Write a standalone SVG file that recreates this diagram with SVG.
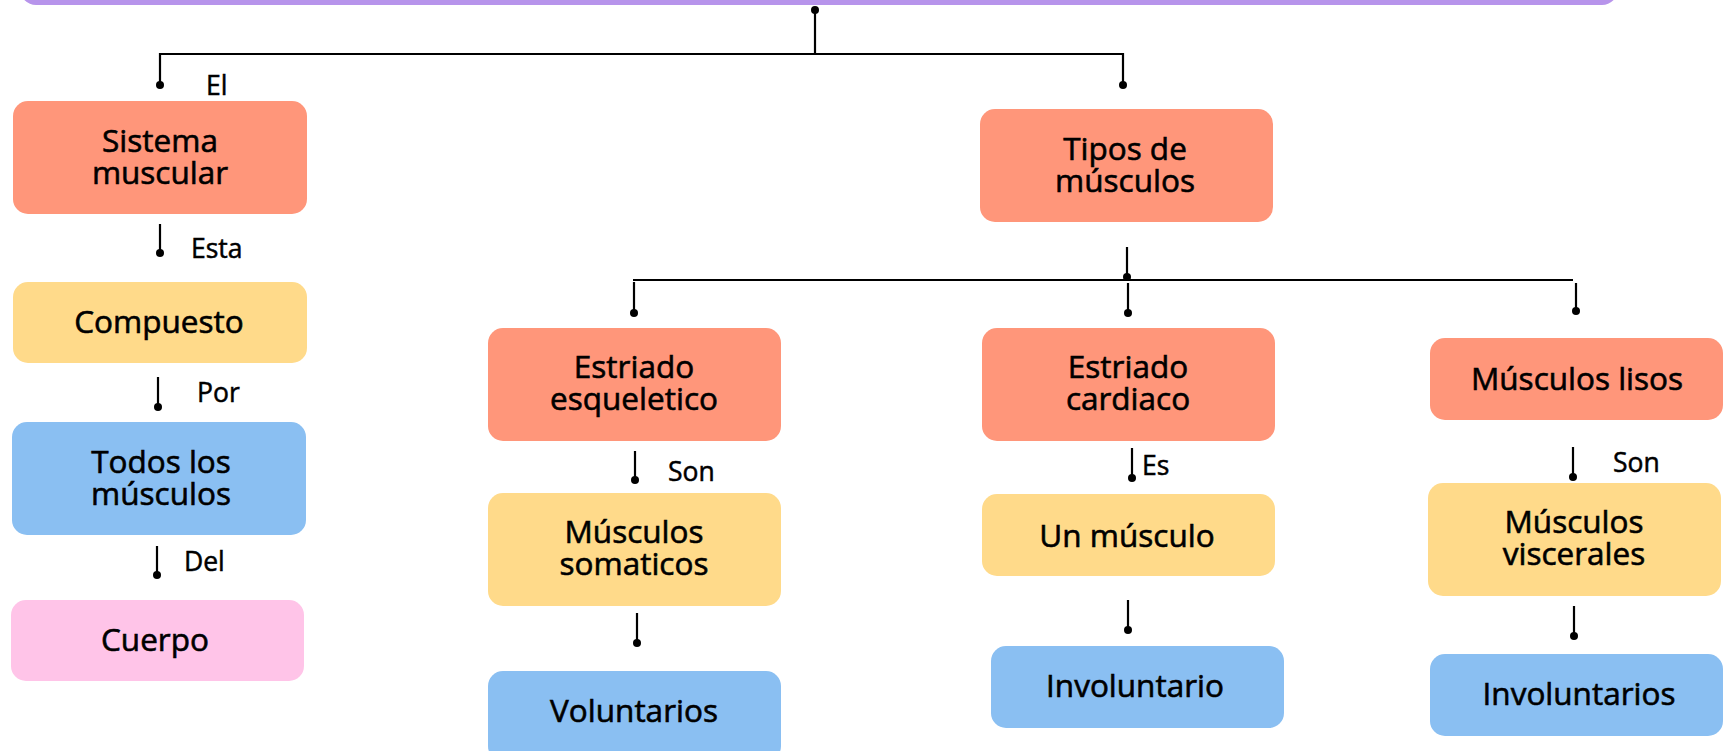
<svg xmlns="http://www.w3.org/2000/svg" width="1727" height="751" viewBox="0 0 1727 751">
<style>
.n{font-family:"Open Sans","Liberation Sans",sans-serif;font-size:31.5px;font-weight:500;fill:#000;stroke:#000;stroke-width:0.6;text-anchor:middle}
.l{font-family:"Open Sans","Liberation Sans",sans-serif;font-size:26.5px;font-weight:500;fill:#000;stroke:#000;stroke-width:0.5}
.c line,.c path{stroke:#000;stroke-width:2.2;fill:none}
.c circle{fill:#000}
.red{fill:#FF967A}
.yel{fill:#FFDA8A}
.blu{fill:#8ABFF2}
.pnk{fill:#FFC4E8}
</style>
<rect width="1727" height="751" fill="#fff"/>
<g id="title"><rect x="20" y="-40" width="1598" height="45" rx="16" fill="#B794EB"/></g>

<g id="connectors" class="c">
<line x1="815" y1="10" x2="815" y2="54"/><circle cx="815" cy="10" r="4"/>
<path d="M160 85 V54 H1123 V85"/>
<circle cx="160" cy="85" r="4"/><circle cx="1123" cy="85" r="4"/>
<line x1="160" y1="224" x2="160" y2="253"/><circle cx="160" cy="253" r="4"/>
<line x1="158" y1="377" x2="158" y2="407"/><circle cx="158" cy="407" r="4"/>
<line x1="157" y1="546" x2="157" y2="575"/><circle cx="157" cy="575" r="4"/>
<line x1="1127" y1="247" x2="1127" y2="279"/><circle cx="1127" cy="277" r="4"/>
<line x1="633" y1="280" x2="1573" y2="280"/>
<line x1="634" y1="282" x2="634" y2="313"/><circle cx="634" cy="313" r="4"/>
<line x1="1128" y1="283" x2="1128" y2="313"/><circle cx="1128" cy="313" r="4"/>
<line x1="1576" y1="283" x2="1576" y2="311"/><circle cx="1576" cy="311" r="4"/>
<line x1="635" y1="451" x2="635" y2="480"/><circle cx="635" cy="480" r="4"/>
<line x1="637" y1="613" x2="637" y2="643"/><circle cx="637" cy="643" r="4"/>
<line x1="1132" y1="448" x2="1132" y2="478"/><circle cx="1132" cy="478" r="4"/>
<line x1="1128" y1="600" x2="1128" y2="630"/><circle cx="1128" cy="630" r="4"/>
<line x1="1573" y1="447" x2="1573" y2="477"/><circle cx="1573" cy="477" r="4"/>
<line x1="1574" y1="606" x2="1574" y2="636"/><circle cx="1574" cy="636" r="4"/>
</g>

<g id="labels">
<text class="l" x="206" y="95">El</text>
<text class="l" x="191" y="258">Esta</text>
<text class="l" x="197" y="402">Por</text>
<text class="l" x="184" y="571">Del</text>
<text class="l" x="668" y="481">Son</text>
<text class="l" x="1142" y="475">Es</text>
<text class="l" x="1613" y="472">Son</text>
</g>

<g id="sistema"><rect class="red" x="13" y="101" width="294" height="113" rx="15"/><text class="n"><tspan x="160" y="152">Sistema</tspan><tspan x="160" y="184">muscular</tspan></text></g>
<g id="compuesto"><rect class="yel" x="13" y="282" width="294" height="81" rx="15"/><text class="n" x="159" y="333">Compuesto</text></g>
<g id="todos"><rect class="blu" x="12" y="422" width="294" height="113" rx="15"/><text class="n"><tspan x="161" y="473">Todos los</tspan><tspan x="161" y="505">músculos</tspan></text></g>
<g id="cuerpo"><rect class="pnk" x="11" y="600" width="293" height="81" rx="15"/><text class="n" x="155" y="651">Cuerpo</text></g>

<g id="tipos"><rect class="red" x="980" y="109" width="293" height="113" rx="15"/><text class="n"><tspan x="1125" y="160">Tipos de</tspan><tspan x="1125" y="192">músculos</tspan></text></g>

<g id="esqueletico"><rect class="red" x="488" y="328" width="293" height="113" rx="15"/><text class="n"><tspan x="634" y="378">Estriado</tspan><tspan x="634" y="410">esqueletico</tspan></text></g>
<g id="somaticos"><rect class="yel" x="488" y="493" width="293" height="113" rx="15"/><text class="n"><tspan x="634" y="543">Músculos</tspan><tspan x="634" y="575">somaticos</tspan></text></g>
<g id="voluntarios"><rect class="blu" x="488" y="671" width="293" height="90" rx="15"/><text class="n" x="634" y="722">Voluntarios</text></g>

<g id="cardiaco"><rect class="red" x="982" y="328" width="293" height="113" rx="15"/><text class="n"><tspan x="1128" y="378">Estriado</tspan><tspan x="1128" y="410">cardiaco</tspan></text></g>
<g id="unmusculo"><rect class="yel" x="982" y="494" width="293" height="82" rx="15"/><text class="n" x="1127" y="547">Un músculo</text></g>
<g id="involuntario"><rect class="blu" x="991" y="646" width="293" height="82" rx="15"/><text class="n" x="1135" y="697">Involuntario</text></g>

<g id="lisos"><rect class="red" x="1430" y="338" width="293" height="82" rx="15"/><text class="n" x="1577" y="390">Músculos lisos</text></g>
<g id="viscerales"><rect class="yel" x="1428" y="483" width="293" height="113" rx="15"/><text class="n"><tspan x="1574" y="533">Músculos</tspan><tspan x="1574" y="565">viscerales</tspan></text></g>
<g id="involuntarios"><rect class="blu" x="1430" y="654" width="293" height="82" rx="15"/><text class="n" x="1579" y="705">Involuntarios</text></g>
</svg>
